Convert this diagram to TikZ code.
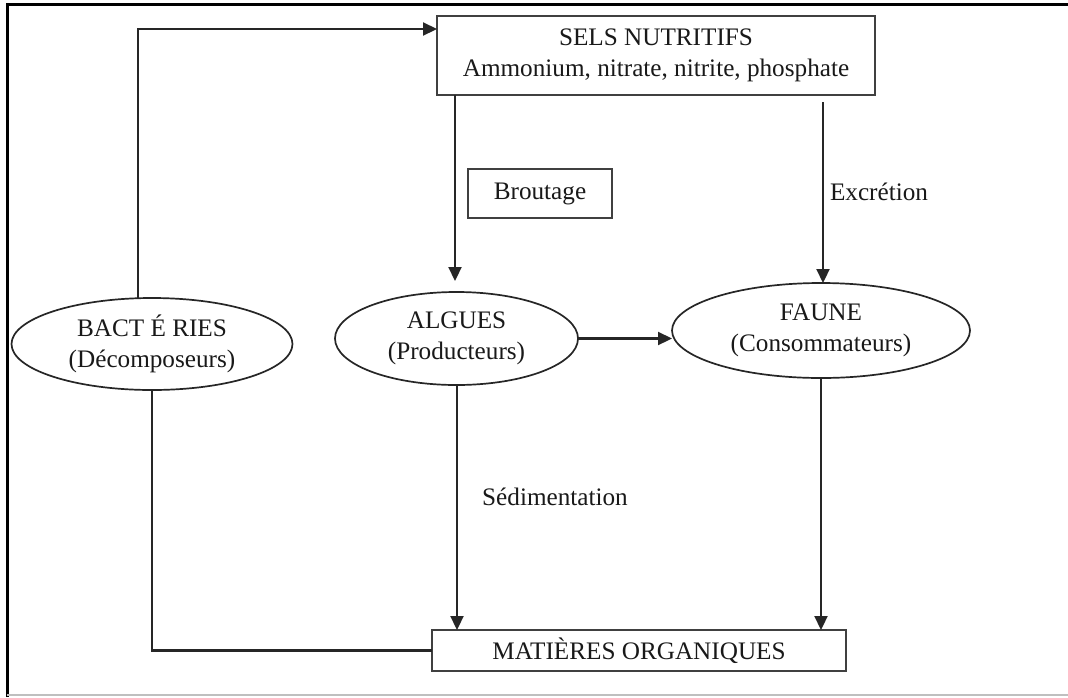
\documentclass[tikz,border=0pt]{standalone}
\usepackage{fontspec}
\setmainfont{Liberation Serif}
\usetikzlibrary{shapes.geometric,arrows.meta,calc}
\begin{document}
\begin{tikzpicture}[x=1pt,y=-1pt,
  every node/.style={font=\fontsize{25.2}{30.5}\selectfont, text=black!90, inner sep=0pt, outer sep=0pt},
  boxnode/.style={draw=black!75, line width=2.1pt, rectangle, align=center},
  ellnode/.style={draw=black!85, line width=1.7pt, ellipse, align=center, fill=white},
  lab/.style={},
  conn/.style={draw=black!85, line width=2.2pt},
  arr/.style={conn, -{Triangle[length=14pt,width=13pt]}}]
\useasboundingbox (0,0) rectangle (1068,697);
\fill[white] (0,0) rectangle (1068,697);
% frame
\draw[line width=3pt, black] (7,697) -- (7,4) -- (1068,4);
\draw[line width=1.2pt, black!25] (7,695) -- (1068,695);
% nodes
\node[boxnode, minimum width=438pt, minimum height=79pt] (sels) at (656,55.5)
  {SELS NUTRITIFS\\Ammonium, nitrate, nitrite, phosphate};
\node[boxnode, minimum width=144pt, minimum height=49pt] (brout) at (540,193.5) {Broutage};
\node[ellnode, minimum width=281pt, minimum height=92pt] (bact) at (152,344)
  {BACT É RIES\\(Décomposeurs)};
\node[ellnode, minimum width=243pt, minimum height=93pt] (alg) at (456.5,338.5)
  {ALGUES\\(Producteurs)};
\node[ellnode, minimum width=298pt, minimum height=95pt] (faune) at (821,330.5)
  {FAUNE\\(Consommateurs)};
\node[boxnode, minimum width=414pt, minimum height=41pt] (mat) at (639,650.5)
  {MATIÈRES ORGANIQUES};
\node[lab] (excr) at (879,192) {Excrétion};
\node[lab] (sedim) at (555,497) {Sédimentation};
% connectors
\coordinate (tl) at (138,29);
\draw[arr] (bact.north -| tl) -- (tl) -- (sels.west |- tl);
\coordinate (ax) at (455,0);
\draw[arr, shorten >=11pt] (sels.south -| ax) -- (alg.north -| ax);
\coordinate (fx) at (823,0);
\draw[arr, shorten <=7pt] (sels.south -| fx) -- (faune.north -| fx);
\draw[arr] (alg.east) -- (faune.west |- alg.east);
\coordinate (ax2) at (457,0);
\draw[arr] (alg.south -| ax2) -- (mat.north -| ax2);
\draw[arr] (faune.south) -- (mat.north -| faune.south);
\draw[conn] (bact.south) |- (mat.west);
\end{tikzpicture}
\end{document}
